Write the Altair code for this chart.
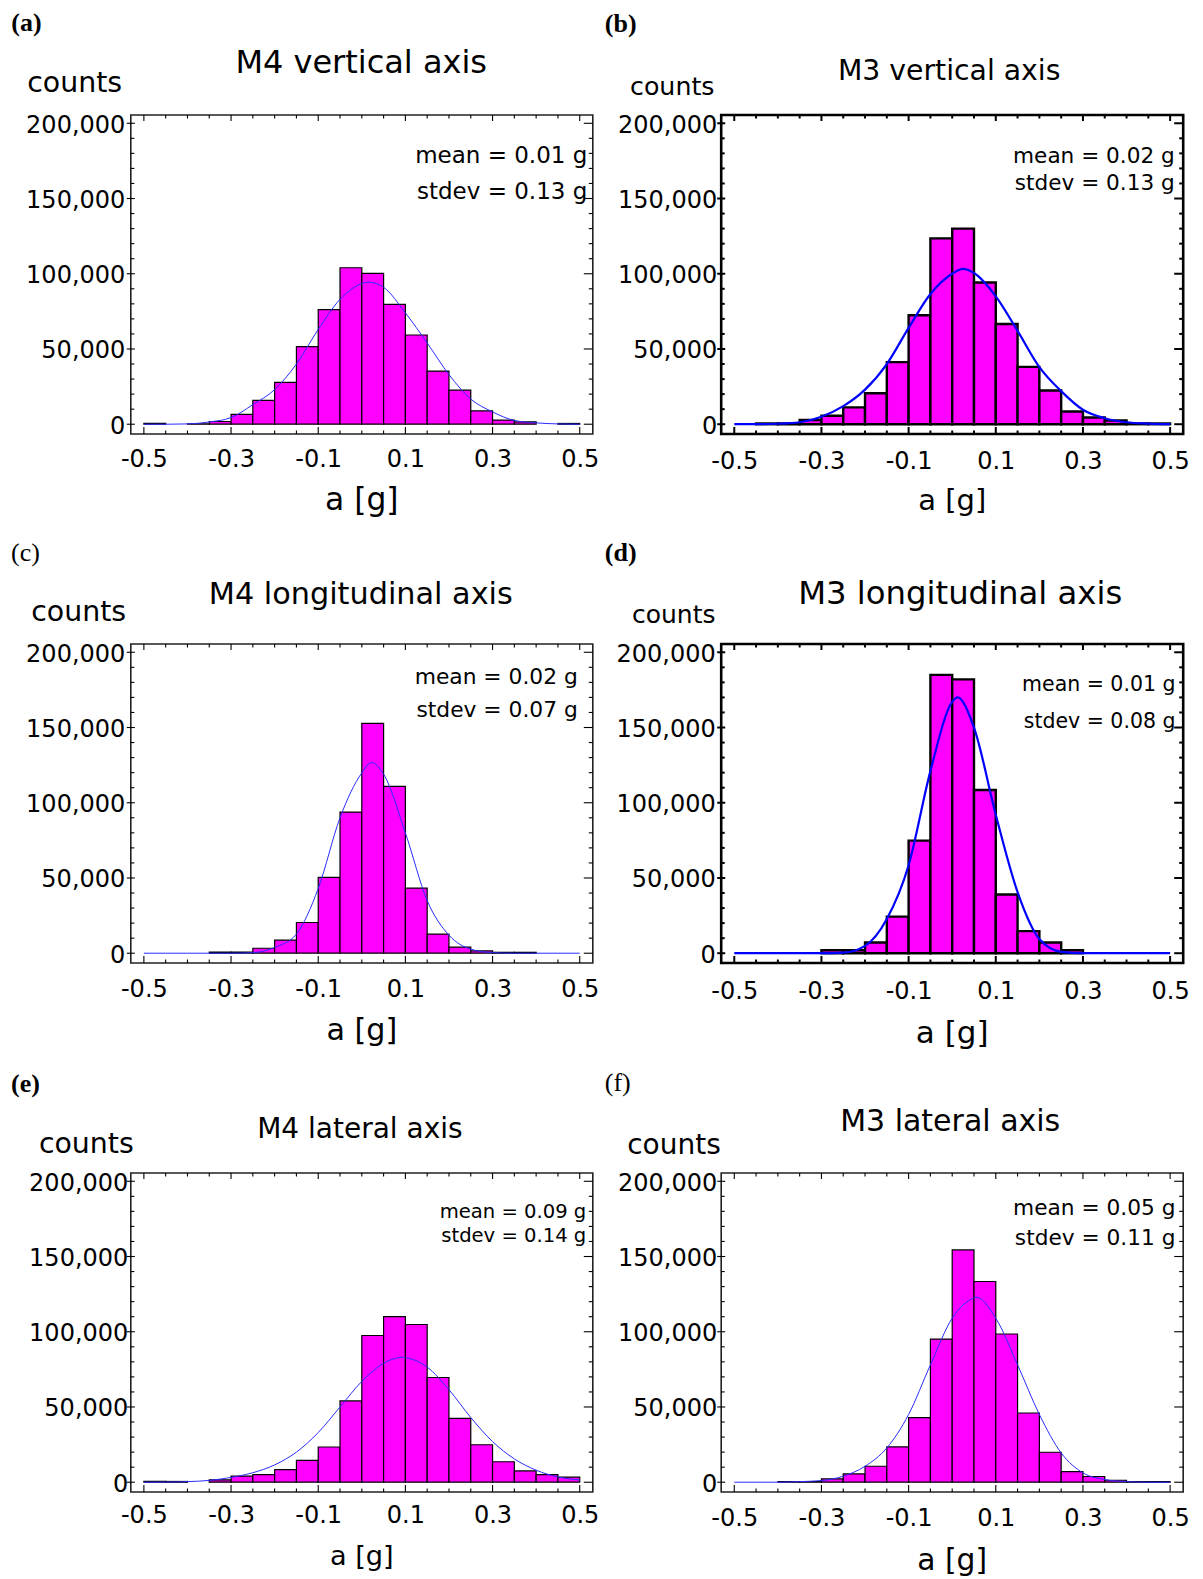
import altair as alt
import pandas as pd

# ------------------------------------------------------------------ data
BIN_EDGES = [-0.5, -0.45, -0.4, -0.35, -0.3, -0.25, -0.2, -0.15, -0.1, -0.05,
             0.0, 0.05, 0.1, 0.15, 0.2, 0.25, 0.3, 0.35, 0.4, 0.45, 0.5]
CURVE_X = [-0.5, -0.45, -0.4, -0.35, -0.3, -0.25, -0.2, -0.15, -0.1, -0.05,
           0.0, 0.05, 0.1, 0.15, 0.2, 0.25, 0.3, 0.35, 0.4, 0.45, 0.5]

PANEL_LABELS = ["(a)", "(b)", "(c)", "(d)", "(e)", "(f)"]
TITLES = ["M4 vertical axis", "M3 vertical axis", "M4 longitudinal axis",
          "M3 longitudinal axis", "M4 lateral axis", "M3 lateral axis"]
MEAN_TEXT = ["mean = 0.01 g", "mean = 0.02 g", "mean = 0.02 g",
             "mean = 0.01 g", "mean = 0.09 g", "mean = 0.05 g"]
STDEV_TEXT = ["stdev = 0.13 g", "stdev = 0.13 g", "stdev = 0.07 g",
              "stdev = 0.08 g", "stdev = 0.14 g", "stdev = 0.11 g"]
Y_LABEL = "counts"
X_LABEL = "a [g]"

Y_TICK_LABELS = [0, 50000, 100000, 150000, 200000]
Y_MINOR = [10000, 20000, 30000, 40000, 60000, 70000, 80000, 90000,
           110000, 120000, 130000, 140000, 160000, 170000, 180000, 190000]
X_TICK_LABELS = [-0.5, -0.3, -0.1, 0.1, 0.3, 0.5]
X_MINOR = [-0.45, -0.4, -0.35, -0.25, -0.2, -0.15, -0.05, 0.0, 0.05,
           0.15, 0.2, 0.25, 0.35, 0.4, 0.45]

# histogram counts, one per bin of BIN_EDGES
A_COUNTS = [500, 0, 300, 1800, 6500, 15800, 27800, 51600, 76200, 104000,
            100300, 79700, 59300, 35300, 22700, 8900, 2700, 1500, 0, 500]
B_COUNTS = [0, 500, 500, 2800, 5600, 11200, 20600, 41300, 72400, 123500,
            130000, 94200, 66600, 38100, 22400, 8500, 4500, 2500, 500, 500]
C_COUNTS = [0, 0, 0, 800, 800, 3300, 8700, 20400, 50400, 93800,
            152700, 110900, 43300, 12700, 4000, 1500, 600, 600, 0, 0]
D_COUNTS = [0, 0, 0, 0, 2000, 2000, 7100, 24300, 74800, 185000,
            182000, 108500, 39000, 14700, 7100, 2000, 0, 0, 0, 0]
E_COUNTS = [500, 500, 0, 1600, 4100, 5000, 8400, 14500, 23400, 54000,
            97500, 110000, 104800, 69600, 42400, 24900, 13600, 7500, 5000, 3400]
F_COUNTS = [0, 0, 400, 400, 2200, 5500, 10600, 23500, 42900, 95100,
            154400, 133400, 98500, 46000, 19900, 7100, 3800, 1300, 400, 400]

# fitted curve read at CURVE_X, plus its peak point
A_CURVE = [0, 0, 200, 1500, 4400, 13000, 23000, 40000, 63000, 83000, 93500,
           91000, 74000, 54000, 33000, 16700, 8200, 2500, 900, 200, 0]
B_CURVE = [0, 0, 300, 1300, 5000, 12000, 23000, 40000, 64000, 86500, 100000,
           100500, 85000, 62000, 38000, 22000, 9600, 4000, 1300, 400, 0]
C_CURVE = [0, 0, 0, 0, 0, 400, 3800, 12700, 43000, 90000, 119800,
           119000, 80000, 35000, 12000, 2700, 400, 0, 0, 0, 0]
D_CURVE = [0, 0, 0, 0, 0, 400, 4900, 22800, 58500, 121000, 167000,
           150000, 92000, 40600, 9400, 900, 0, 0, 0, 0, 0]
E_CURVE = [0, 100, 400, 1200, 3200, 6300, 11500, 20000, 33000, 50000, 67000,
           79000, 82800, 76500, 61500, 43000, 27000, 15500, 8000, 3500, 1500]
F_CURVE = [0, 0, 0, 400, 1100, 4000, 10600, 22800, 45000, 78000, 109000,
           122500, 109000, 78000, 45000, 19500, 6200, 1800, 400, 0, 0]
A_PEAK = [0.015, 94400]
B_PEAK = [0.025, 103200]
C_PEAK = [0.022, 126700]
D_PEAK = [0.012, 170000]
E_PEAK = [0.093, 83000]
F_PEAK = [0.055, 123000]

COUNTS = [A_COUNTS, B_COUNTS, C_COUNTS, D_COUNTS, E_COUNTS, F_COUNTS]
CURVES = [A_CURVE, B_CURVE, C_CURVE, D_CURVE, E_CURVE, F_CURVE]
PEAKS = [A_PEAK, B_PEAK, C_PEAK, D_PEAK, E_PEAK, F_PEAK]

# ------------------------------------------------------------------ style
FONT = "DejaVu Sans"
SERIF = "Liberation Serif"
MAGENTA = "#ff00ff"
W, H = 462, 319
X_DOMAIN = [-0.53, 0.53]
Y_DOMAIN = [-6500, 205500]
TICK_FS = 24

STYLE = [
    dict(thick=False, label=(-119.5, -83.6), bold=True, title=(230.4, -42.1, 32),
         counts=(-103.6, -23.1, 28.4), stat=(5.5, 47.7, 84.0, 23), xtitle=(76, 31.4),
         ypad=6, xpad=13),
    dict(thick=True, label=(-116.4, -82.6), bold=True, title=(228, -34.8, 28.3),
         counts=(-91.2, -19.8, 25.3), stat=(8.5, 47.7, 75.4, 21.6), xtitle=(76, 29),
         ypad=4.5, xpad=15),
    dict(thick=False, label=(-119.7, -82.6), bold=False, title=(230, -39.8, 30.3),
         counts=(-99.6, -23.1, 28.4), stat=(15, 40, 73.4, 21.8), xtitle=(77, 30.2),
         ypad=6, xpad=14.8),
    dict(thick=True, label=(-116.4, -82.6), bold=True, title=(239, -39.8, 32.3),
         counts=(-89.2, -21.1, 25), stat=(7.7, 47.4, 84, 20.5), xtitle=(80, 31),
         ypad=6, xpad=17),
    dict(thick=False, label=(-119.8, -80.8), bold=True, title=(229.1, -34.7, 28),
         counts=(-91.9, -20.3, 28.4), stat=(6.5, 45, 69.4, 19.6), xtitle=(73, 27.2),
         ypad=3, xpad=12),
    dict(thick=False, label=(-116.4, -81.8), bold=False, title=(229, -41.9, 30),
         counts=(-94, -18.7, 28), stat=(7.7, 42.3, 72.3, 21.7), xtitle=(78, 29.8),
         ypad=4.5, xpad=15),
]

X_LABEL_EXPR = ("datum.value < 0 ? '-' + format(-datum.value, '.1f') "
                ": format(datum.value, '.1f')")


def text_layer(txt, x, y, size, align="left", font=FONT, weight="normal"):
    return alt.Chart(pd.DataFrame({"t": [txt]})).mark_text(
        align=align, baseline="alphabetic", font=font, fontSize=size,
        fontWeight=weight, color="black"
    ).encode(text="t:N", x=alt.value(x), y=alt.value(y))


def make_panel(i):
    s = STYLE[i]
    thick = s["thick"]
    bar_w = 2.4 if thick else 1.2
    tick_w = 2.0 if thick else 1.1
    frame_w = 2.6 if thick else 1.6
    frame_c = "#000000" if thick else "#222222"
    curve_c = "#0000ff" if thick else "#2a2aff"
    curve_w = 2.2 if thick else 1.0

    xsc = alt.Scale(domain=X_DOMAIN, nice=False, zero=False)
    ysc = alt.Scale(domain=Y_DOMAIN, nice=False, zero=False)
    xax = alt.Axis(
        values=X_TICK_LABELS, labelExpr=X_LABEL_EXPR, ticks=False, domain=False,
        grid=False, title=None, labelFont=FONT, labelFontSize=TICK_FS,
        labelColor="black", labelPadding=s["xpad"], labelFlush=False)
    yax = alt.Axis(
        values=Y_TICK_LABELS, format=",d", ticks=False, domain=False,
        grid=False, title=None, labelFont=FONT, labelFontSize=TICK_FS,
        labelColor="black", labelPadding=s["ypad"], labelOffset=2)

    bars_df = pd.DataFrame({"lo": BIN_EDGES[:-1], "hi": BIN_EDGES[1:], "n": COUNTS[i]})
    bars_df = bars_df[bars_df["n"] > 0]
    bars = alt.Chart(bars_df).mark_rect(
        fill=MAGENTA, stroke="black", strokeWidth=bar_w
    ).encode(
        x=alt.X("lo:Q", scale=xsc, axis=xax),
        x2=alt.X2("hi:Q"),
        y=alt.Y("n:Q", scale=ysc, axis=yax),
        y2=alt.Y2(datum=0),
    )

    cx = CURVE_X + [PEAKS[i][0]]
    cy = CURVES[i] + [PEAKS[i][1]]
    cdf = pd.DataFrame({"x": cx, "y": cy}).sort_values("x")
    line = alt.Chart(cdf).mark_line(
        color=curve_c, strokeWidth=curve_w, interpolate="monotone"
    ).encode(
        x=alt.X("x:Q", scale=xsc, axis=xax),
        y=alt.Y("y:Q", scale=ysc, axis=yax),
    )

    def yt(vals, x0, x1):
        return alt.Chart(pd.DataFrame({"v": vals})).mark_rule(
            color="black", strokeWidth=tick_w
        ).encode(y=alt.Y("v:Q", scale=ysc, axis=yax), x=alt.value(x0), x2=alt.value(x1))

    def xt(vals, y0, y1):
        return alt.Chart(pd.DataFrame({"v": vals})).mark_rule(
            color="black", strokeWidth=tick_w
        ).encode(x=alt.X("v:Q", scale=xsc, axis=xax), y=alt.value(y0), y2=alt.value(y1))

    ticks = [
        yt(Y_TICK_LABELS, -4, 4), yt(Y_MINOR, 0, 3.5),
        yt(Y_TICK_LABELS, W - 9, W), yt(Y_MINOR, W - 4, W),
        xt(X_TICK_LABELS, 0, 6), xt(X_MINOR, 0, 3.5),
        xt(X_TICK_LABELS, H - 7, H), xt(X_MINOR, H - 3.5, H),
    ]

    lx, ly = s["label"]
    tx, ty, tsz = s["title"]
    cxp, cyp, csz = s["counts"]
    sr, sy1, sy2, ssz = s["stat"]
    xty, xtsz = s["xtitle"]
    texts = [
        text_layer(PANEL_LABELS[i], lx, ly, 26, font=SERIF,
                   weight="bold" if s["bold"] else "normal"),
        text_layer(TITLES[i], tx, ty, tsz, align="center"),
        text_layer(Y_LABEL, cxp, cyp, csz),
        text_layer(MEAN_TEXT[i], W - sr, sy1, ssz, align="right"),
        text_layer(STDEV_TEXT[i], W - sr, sy2, ssz, align="right"),
        text_layer(X_LABEL, W / 2, H + xty, xtsz, align="center"),
    ]

    return alt.layer(bars, line, *ticks, *texts).properties(
        width=W, height=H,
        view=alt.ViewBackground(stroke=frame_c, strokeWidth=frame_w, fill="white"),
    )


panels = [make_panel(i) for i in range(6)]

chart = alt.concat(
    *panels, columns=2, bounds="flush",
    spacing={"row": 210, "column": 128.4},
).properties(
    padding={"left": 9.8, "top": 9, "right": 2, "bottom": 0},
    background="white",
).configure(font=FONT)

chart.save("out.html", embed_options={"renderer": "svg", "actions": False})
